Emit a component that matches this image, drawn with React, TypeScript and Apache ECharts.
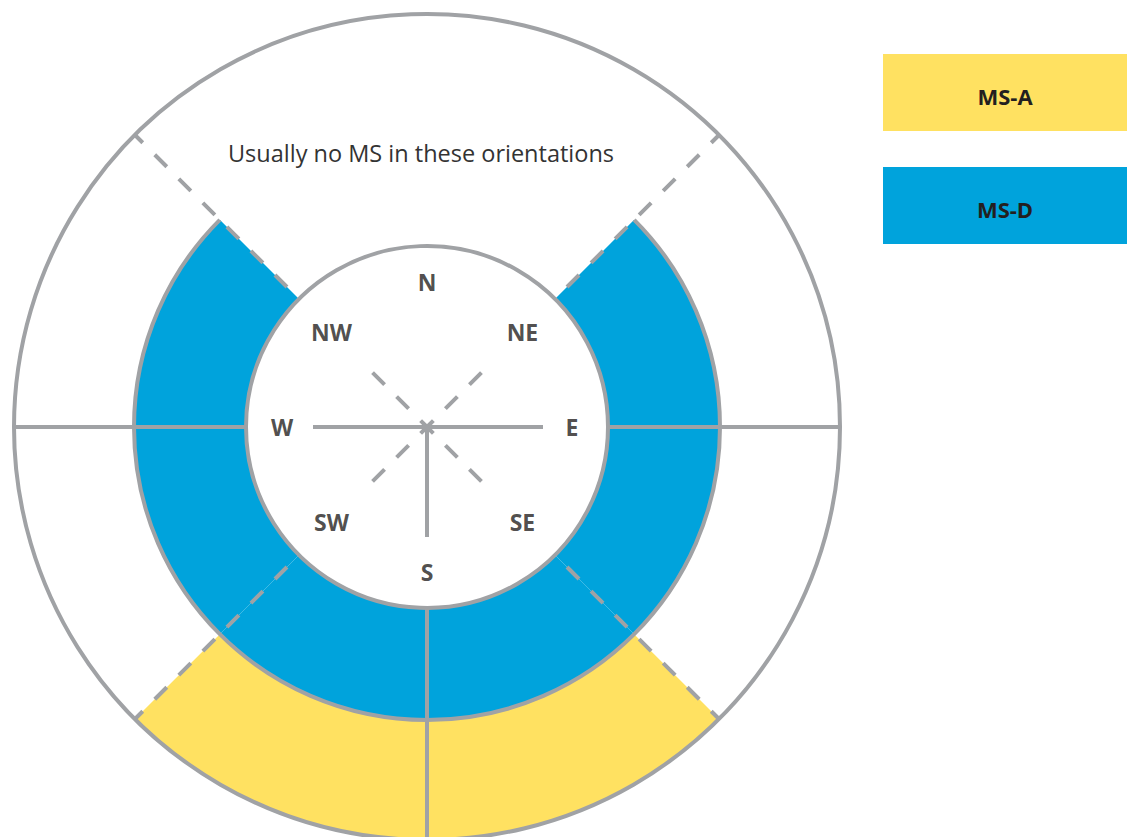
import React, { useEffect, useRef } from "react";
import * as echarts from "echarts";

// 45° sectors, clockwise from north
const SECTORS = ["N–NE", "NE–E", "E–SE", "SE–S", "S–SW", "SW–W", "W–NW", "NW–N"];
// radial stack per sector (radius units)
const CORE = [0, 181, 181, 181, 181, 181, 181, 0];
const MS_D = [0, 112, 112, 112, 112, 112, 112, 0];
const MS_A = [0, 0, 0, 120, 120, 0, 0, 0];

const COMPASS_LABELS = ["N", "NE", "E", "SE", "S", "SW", "W", "NW"];
const COMPASS_ANGLES = [0, 45, 90, 135, 180, 225, 270, 315];

const SOLID_SPOKE_ANGLES = [90, 180, 270];
const SOLID_SPOKE_INNER_LEN = [116, 110, 114];
const DASHED_SPOKE_ANGLES = [45, 135, 225, 315];
const DASHED_SPOKE_INNER_LEN = [77, 77, 77, 77];

const LEGEND_NAMES = ["MS-A", "MS-D"];
const NOTE = "Usually no MS in these orientations";

const R_INNER = 181;
const R_MID = 293;
const R_OUTER = 413;
const CX = 427;
const CY = 427;

const YELLOW = "#FFE161";
const BLUE = "#00A3DC";
const GRAY = "#A0A2A5";
const DARK = "#231F20";
const FONT = "'Open Sans', Lato, sans-serif";

export default function App() {
  const ref = useRef<HTMLDivElement>(null);
  useEffect(() => {
    if (!ref.current) return;
    const chart = echarts.init(ref.current, undefined, { renderer: "svg" });

    const hiddenAxis = {
      axisLine: { show: false },
      axisTick: { show: false },
      axisLabel: { show: false },
      splitLine: { show: false },
      splitArea: { show: false },
    };

    const series: any[] = [];
    const barCommon = {
      type: "bar",
      coordinateSystem: "polar",
      polarIndex: 0,
      stack: "rings",
      barCategoryGap: "0%",
      silent: true,
      z: 2,
    };
    series.push({ ...barCommon, name: "core", data: CORE, itemStyle: { color: "rgba(0,0,0,0)" } });
    series.push({ ...barCommon, name: "MS-D", data: MS_D, itemStyle: { color: BLUE } });
    series.push({ ...barCommon, name: "MS-A", data: MS_A, itemStyle: { color: YELLOW } });

    const spoke = (a: number, r1: number, r2: number, dashed: boolean, offset = 0) => ({
      type: "line",
      coordinateSystem: "polar",
      polarIndex: 1,
      symbol: "none",
      silent: true,
      clip: false,
      z: 8,
      data: [
        [r1, a],
        [r2, a],
      ],
      lineStyle: {
        color: GRAY,
        width: 4,
        type: dashed ? [17, 17] : "solid",
        dashOffset: offset,
        cap: "butt",
      },
    });

    SOLID_SPOKE_ANGLES.forEach((a, i) => {
      series.push(spoke(a, 0, SOLID_SPOKE_INNER_LEN[i], false));
      series.push(spoke(a, R_INNER, R_OUTER, false));
    });
    DASHED_SPOKE_ANGLES.forEach((a, i) => {
      series.push(spoke(a, DASHED_SPOKE_INNER_LEN[i], 0, true));
      series.push(spoke(a, R_INNER, R_OUTER, true, 17));
    });

    series.push({
      type: "scatter",
      coordinateSystem: "polar",
      polarIndex: 1,
      symbolSize: 1,
      silent: true,
      z: 9,
      itemStyle: { color: "rgba(0,0,0,0)" },
      data: COMPASS_LABELS.map((n, i) => ({
        name: n,
        value: [COMPASS_ANGLES[i] % 90 === 0 ? 145 : 135, COMPASS_ANGLES[i]],
      })),
      label: {
        show: true,
        position: "inside",
        formatter: "{b}",
        color: DARK,
        fontSize: 23,
        fontWeight: "bold",
        fontFamily: FONT,
      },
    });

    const ring = (r: number) => ({
      type: "circle",
      z: 100,
      silent: true,
      shape: { cx: CX, cy: CY, r },
      style: { fill: "none", stroke: GRAY, lineWidth: 4 },
    });

    const legendColors = [YELLOW, BLUE];
    const legendTops = [54, 167];

    const graphic: any[] = [
      ring(R_INNER),
      ring(R_OUTER),
      {
        type: "arc",
        z: 100,
        silent: true,
        shape: { cx: CX, cy: CY, r: R_MID, startAngle: -Math.PI / 4, endAngle: (5 * Math.PI) / 4, clockwise: true },
        style: { fill: "none", stroke: GRAY, lineWidth: 4 },
      },
      {
        type: "text",
        z: 100,
        silent: true,
        x: 421,
        y: 153,
        style: {
          text: NOTE,
          fill: "#333333",
          fontSize: 23.5,
          fontFamily: FONT,
          fontWeight: "normal",
          align: "center",
          verticalAlign: "middle",
        },
      },
    ];
    LEGEND_NAMES.forEach((n, i) => {
      graphic.push({
        type: "rect",
        z: 100,
        silent: true,
        shape: { x: 883, y: legendTops[i], width: 244, height: 77 },
        style: { fill: legendColors[i] },
      });
      graphic.push({
        type: "text",
        z: 101,
        silent: true,
        x: 1005,
        y: legendTops[i] + 42,
        style: {
          text: n,
          fill: DARK,
          fontSize: 22,
          fontWeight: "bold",
          fontFamily: FONT,
          align: "center",
          verticalAlign: "middle",
        },
      });
    });

    chart.setOption({
      animation: false,
      backgroundColor: "#FFFFFF",
      polar: [
        { center: [CX, CY], radius: R_OUTER },
        { center: [CX, CY], radius: R_OUTER },
      ],
      angleAxis: [
        { polarIndex: 0, type: "category", data: SECTORS, startAngle: 90, clockwise: true, ...hiddenAxis },
        { polarIndex: 1, type: "value", min: 0, max: 360, startAngle: 90, clockwise: true, ...hiddenAxis },
      ],
      radiusAxis: [
        { polarIndex: 0, type: "value", min: 0, max: R_OUTER, ...hiddenAxis },
        { polarIndex: 1, type: "value", min: 0, max: R_OUTER, ...hiddenAxis },
      ],
      series,
      graphic,
    });

    return () => chart.dispose();
  }, []);

  return (
    <div
      ref={ref}
      style={{ position: "absolute", left: 0, top: 0, width: 1131, height: 837 }}
    />
  );
}
